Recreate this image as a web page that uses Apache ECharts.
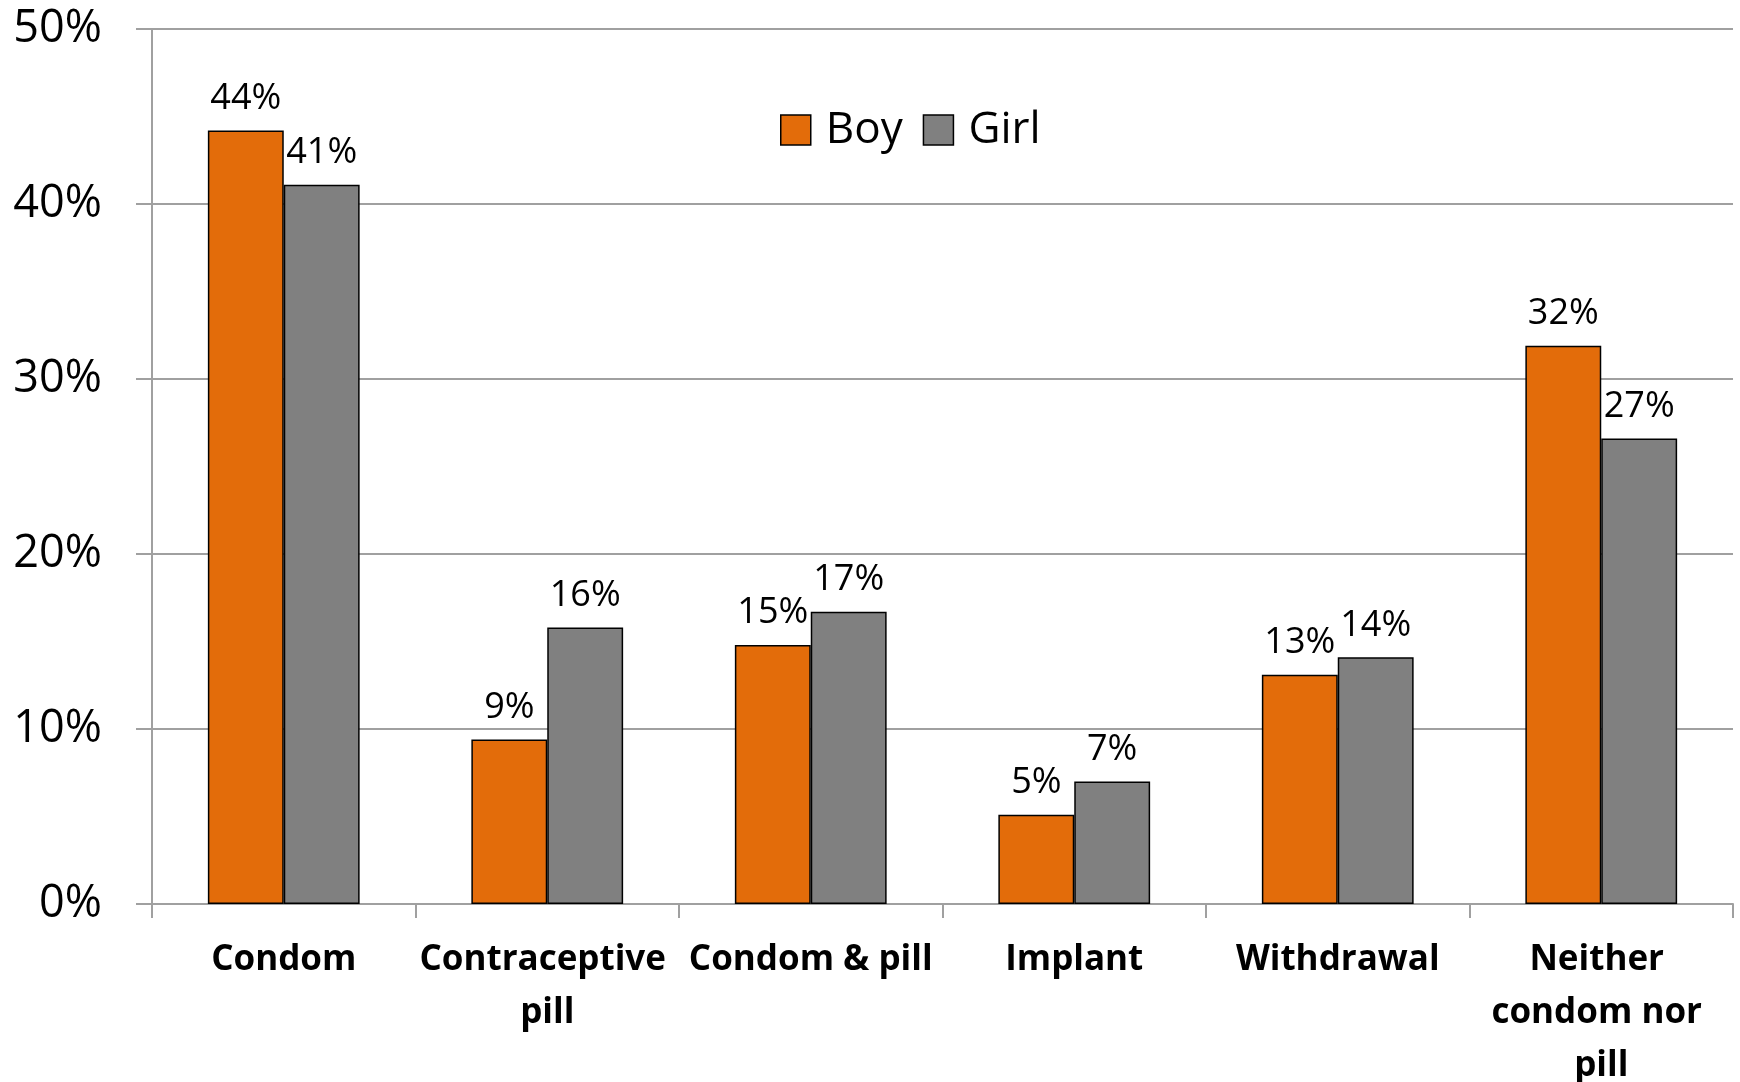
<!DOCTYPE html>
<html>
<head>
<meta charset="utf-8">
<script src="https://cdn.jsdelivr.net/npm/echarts@6/dist/echarts.min.js"></script>
<style>
html,body{margin:0;padding:0;background:#fff;}
#chart{width:1740px;height:1082px;}
</style>
</head>
<body>
<div id="chart"></div>
<script>
const categories = ['Condom', 'Contraceptive pill', 'Condom & pill', 'Implant', 'Withdrawal', 'Neither condom nor pill'];
const boyValues = [44.2, 9.4, 14.8, 5.1, 13.1, 31.9];
const girlValues = [41.1, 15.8, 16.7, 7.0, 14.1, 26.6];
const yTicks = [0, 10, 20, 30, 40, 50];

const FONT = '"Open Sans", "Noto Sans", sans-serif';
const chart = echarts.init(document.getElementById('chart'));

const labelOpt = {
  show: true,
  position: 'top',
  distance: 14,
  color: '#000',
  fontFamily: FONT,
  fontSize: 36,
  formatter: p => Math.round(p.value) + '%'
};

chart.setOption({
  animation: false,
  backgroundColor: '#fff',
  grid: { left: 152, right: 7, top: 29, bottom: 178, containLabel: false, outerBoundsMode: 'none' },
  legend: {
    left: 775, top: 103,
    itemWidth: 30, itemHeight: 30, itemGap: 20,
    icon: 'rect',
    itemStyle: { borderColor: '#000', borderWidth: 1.5 },
    textStyle: { fontFamily: FONT, fontSize: 44, color: '#000', padding: [0, 0, 0, 10] },
    data: ['Boy', 'Girl']
  },
  xAxis: {
    type: 'category',
    data: categories,
    axisLine: { lineStyle: { color: '#a0a0a0', width: 2 } },
    axisTick: { show: true, length: 14, lineStyle: { color: '#a0a0a0', width: 2 } },
    axisLabel: {
      interval: 0,
      margin: 30,
      color: '#000',
      fontFamily: FONT,
      fontWeight: 'bold',
      fontSize: 35,
      lineHeight: 53,
      width: 262,
      overflow: 'break'
    }
  },
  yAxis: {
    type: 'value',
    min: yTicks[0],
    max: yTicks[yTicks.length - 1],
    interval: 10,
    axisLine: { show: true, lineStyle: { color: '#a0a0a0', width: 2 } },
    axisTick: { show: true, length: 16, lineStyle: { color: '#a0a0a0', width: 2 } },
    splitLine: { show: true, lineStyle: { color: '#a0a0a0', width: 2 } },
    axisLabel: {
      margin: 50,
      color: '#000',
      fontFamily: FONT,
      fontSize: 45,
      padding: [6, 0, 0, 0],
      formatter: '{value}%'
    }
  },
  series: [
    {
      name: 'Boy', type: 'bar', data: boyValues,
      barGap: '0%', barCategoryGap: '42.4%',
      itemStyle: { color: '#E36C0A', borderColor: '#000', borderWidth: 1.5 },
      label: labelOpt
    },
    {
      name: 'Girl', type: 'bar', data: girlValues,
      barGap: '0%', barCategoryGap: '42.4%',
      itemStyle: { color: '#808080', borderColor: '#000', borderWidth: 1.5 },
      label: labelOpt
    }
  ]
});
</script>
</body>
</html>
